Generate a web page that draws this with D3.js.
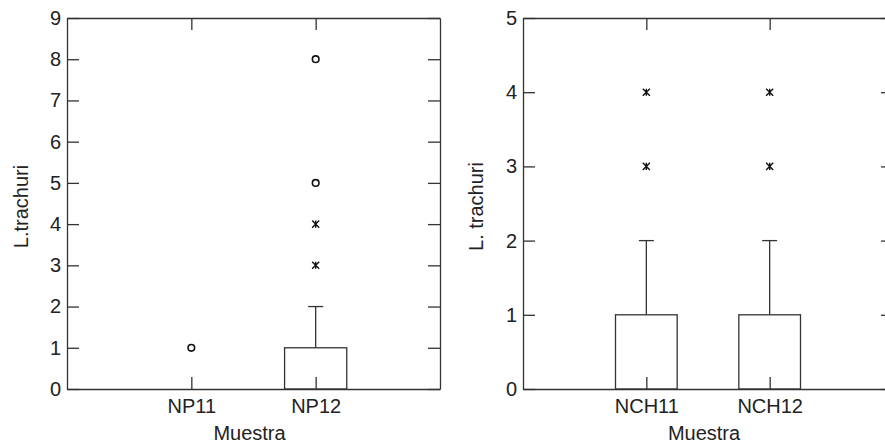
<!DOCTYPE html>
<html>
<head>
<meta charset="utf-8">
<script src="https://cdn.jsdelivr.net/npm/d3@7"></script>
<style>
  body { margin: 0; background: #fff; }
  text { font-family: "Liberation Sans", Arial, sans-serif; fill: #222; }
</style>
</head>
<body>
<script>
// left panel
var leftCats = ["NP11", "NP12"];
var leftQ1 = [0, 0];
var leftQ3 = [0, 1];
var leftWhiskerHi = [0, 2];
var leftYTicks = [0, 1, 2, 3, 4, 5, 6, 7, 8, 9];
var leftCircles = [[1], [5, 8]];
var leftStars = [[], [3, 4]];

// right panel
var rightCats = ["NCH11", "NCH12"];
var rightQ1 = [0, 0];
var rightQ3 = [1, 1];
var rightWhiskerHi = [2, 2];
var rightYTicks = [0, 1, 2, 3, 4, 5];
var rightCircles = [[], []];
var rightStars = [[3, 4], [3, 4]];

var width = 885,
    height = 447;

// extreme-value marker: an "x" crossed by a vertical bar
var starSymbol = {
  draw: function(ctx, size) {
    var r = Math.sqrt(size) / 2;
    ctx.moveTo(0, -r); ctx.lineTo(0, r);
    ctx.moveTo(-r, -r); ctx.lineTo(r, r);
    ctx.moveTo(-r, r); ctx.lineTo(r, -r);
  }
};

var svg = d3.select("body").append("svg")
  .attr("width", width)
  .attr("height", height);

function makePanel(opts) {
  var margin = {top: 18, left: opts.left};
  var w = opts.w, h = 371;
  var ink = "#333";

  var g = svg.append("g")
    .attr("transform", "translate(" + margin.left + "," + margin.top + ")");

  var x = d3.scalePoint().domain(opts.cats).range([0, w]).padding(1);
  var y = d3.scaleLinear().domain([0, d3.max(opts.yTicks)]).range([h, 0]);
  var boxW = x.step() * 0.5;
  var capW = 15;

  var axes = [
    {ax: d3.axisLeft(y).tickValues(opts.yTicks).tickFormat(d3.format("d")).tickPadding(6), t: ""},
    {ax: d3.axisRight(y).tickValues(opts.yTicks).tickFormat(""), t: "translate(" + w + ",0)"},
    {ax: d3.axisTop(x).tickFormat(""), t: ""},
    {ax: d3.axisBottom(x).tickPadding(10), t: "translate(0," + h + ")"}
  ];
  axes.forEach(function(a) {
    var ga = g.append("g")
      .attr("transform", a.t)
      .call(a.ax.tickSizeInner(-12).tickSizeOuter(0));
    ga.selectAll("path, line").attr("stroke", ink).attr("stroke-width", 1.3);
    ga.selectAll("text").style("font-size", "20px").attr("fill", "#222")
      .style("font-family", "'Liberation Sans', Arial, sans-serif");
  });

  opts.cats.forEach(function(c, i) {
    var cx = x(c);
    if (opts.whi[i] > opts.q3[i]) {
      g.append("line")
        .attr("x1", cx).attr("x2", cx)
        .attr("y1", y(opts.q3[i])).attr("y2", y(opts.whi[i]))
        .attr("stroke", ink).attr("stroke-width", 1.3);
      g.append("line")
        .attr("x1", cx - capW / 2).attr("x2", cx + capW / 2)
        .attr("y1", y(opts.whi[i])).attr("y2", y(opts.whi[i]))
        .attr("stroke", ink).attr("stroke-width", 1.3);
    }
    if (opts.q3[i] > opts.q1[i]) {
      g.append("rect")
        .attr("x", cx - boxW / 2)
        .attr("y", y(opts.q3[i]))
        .attr("width", boxW)
        .attr("height", y(opts.q1[i]) - y(opts.q3[i]))
        .attr("fill", "none")
        .attr("stroke", ink).attr("stroke-width", 1.3);
    }
    opts.circles[i].forEach(function(v) {
      g.append("circle")
        .attr("cx", cx).attr("cy", y(v)).attr("r", 3.3)
        .attr("fill", "none").attr("stroke", "#111").attr("stroke-width", 1.6);
    });
    opts.stars[i].forEach(function(v) {
      g.append("path")
        .attr("d", d3.symbol(starSymbol, 50)())
        .attr("transform", "translate(" + cx + "," + y(v) + ")")
        .attr("fill", "none").attr("stroke", "#111").attr("stroke-width", 1.4);
    });
  });

  g.append("text")
    .attr("x", w / 2 - 4)
    .attr("y", 422)
    .attr("text-anchor", "middle")
    .style("font-size", "20px")
    .text("Muestra");

  g.append("text")
    .attr("transform", "translate(" + opts.titleX + "," + (h / 2 + 3) + ") rotate(-90)")
    .attr("text-anchor", "middle")
    .style("font-size", "20px")
    .text(opts.yTitle);
}

makePanel({left: 67, w: 373, cats: leftCats, q1: leftQ1, q3: leftQ3, whi: leftWhiskerHi,
  yTicks: leftYTicks, circles: leftCircles, stars: leftStars, yTitle: "L.trachuri", titleX: -39});
makePanel({left: 523, w: 370, cats: rightCats, q1: rightQ1, q3: rightQ3, whi: rightWhiskerHi,
  yTicks: rightYTicks, circles: rightCircles, stars: rightStars, yTitle: "L. trachuri", titleX: -40});
</script>
</body>
</html>
